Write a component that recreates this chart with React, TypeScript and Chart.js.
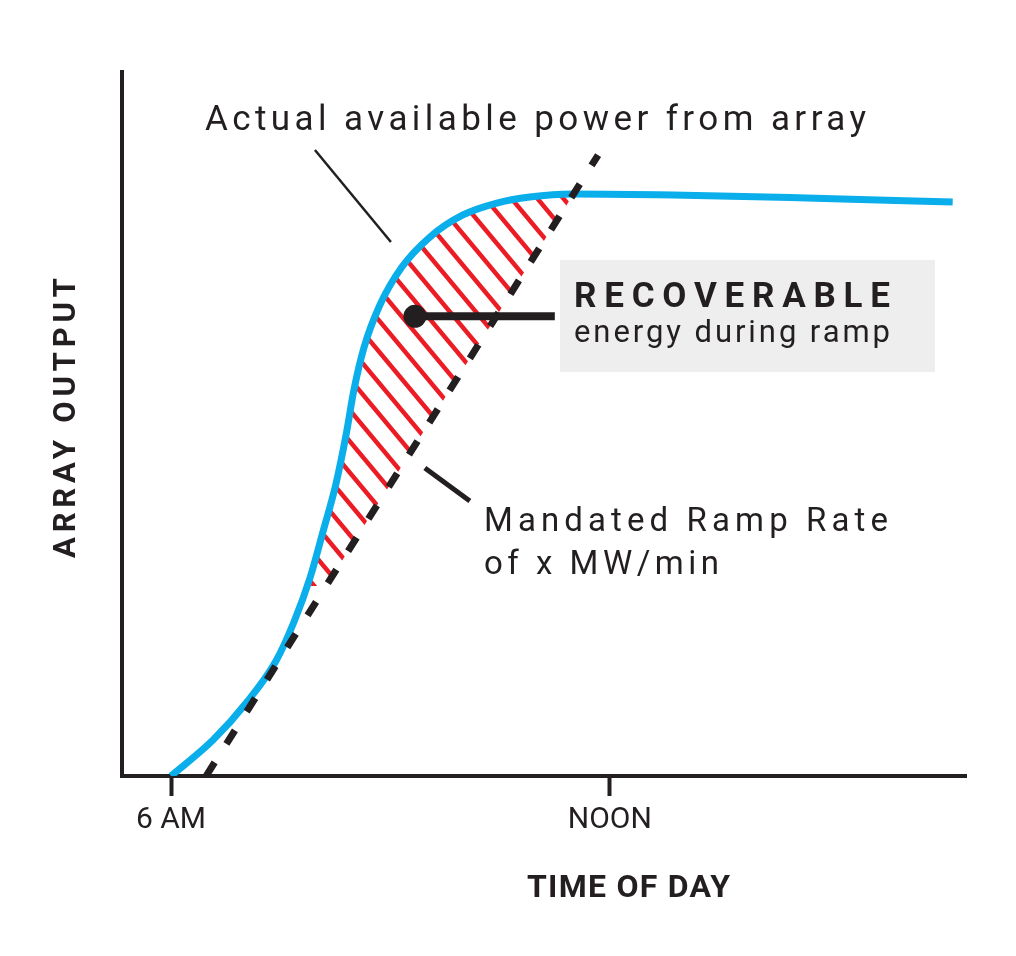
import React, { useEffect, useRef } from "react";
import { Chart, registerables } from "chart.js";

Chart.register(...registerables);

// ---- data (hours of day on x, relative array output 0..100 on y) ----
const tickValues = [6, 12];
const tickLabels = ["6 AM", "NOON"];
const actualX = [6.0, 6.574, 7.039, 7.435, 7.681, 7.9, 8.077, 8.255, 8.391, 8.501, 8.637, 8.856, 9.157, 9.54, 9.991, 10.455, 10.906, 11.494, 12.861, 14.692, 16.688];
const actualY = [0, 5.11, 10.51, 16.34, 21.88, 28.13, 34.66, 41.48, 48.3, 54.83, 60.8, 66.9, 72.3, 76.56, 79.69, 81.39, 82.24, 82.67, 82.53, 82.1, 81.53];
const rampX = [6.48, 11.84];
const rampY = [0, 88.2];
const xRange = [5.33, 16.87];
const yRange = [0, 100];
const hatchFloor = 27;
// annotation anchors (data units)
const dotPoint = [9.335, 65.3];
const pointerEndX = 11.248;
const actualLeader = [[7.968, 88.92], [9.007, 75.85]];
const rampLeader = [[9.471, 43.75], [10.086, 39.06]];

const BLACK = "#231f20";
const BLUE = "#0aaeea";
const RED = "#ec1c24";
const FONT = "Roboto, 'DejaVu Sans', sans-serif";

function spaced(ctx: CanvasRenderingContext2D, text: string, x: number, y: number, width: number, font: string, color: string) {
  ctx.font = font;
  ctx.fillStyle = color;
  ctx.textAlign = "left";
  ctx.textBaseline = "alphabetic";
  (ctx as any).letterSpacing = "0px";
  const w0 = ctx.measureText(text).width;
  const ls = (width - w0) / (text.length - 1);
  (ctx as any).letterSpacing = ls + "px";
  ctx.fillText(text, x, y);
  (ctx as any).letterSpacing = "0px";
}

const hatchPlugin = {
  id: "hatch",
  beforeDatasetsDraw(chart: any) {
    const ctx: CanvasRenderingContext2D = chart.ctx;
    const area = chart.chartArea;
    const rampMeta = chart.getDatasetMeta(0);
    const blueMeta = chart.getDatasetMeta(1);
    const line = blueMeta.dataset;
    const pts = blueMeta.data;
    const r0 = rampMeta.data[0];
    const r1 = rampMeta.data[1];
    ctx.save();
    ctx.beginPath();
    if (line && typeof line.path === "function") {
      line.path(ctx);
    } else {
      ctx.moveTo(pts[0].x, pts[0].y);
      for (let i = 1; i < pts.length; i++) ctx.lineTo(pts[i].x, pts[i].y);
    }
    ctx.lineTo(pts[pts.length - 1].x, area.bottom);
    ctx.lineTo(pts[0].x, area.bottom);
    ctx.closePath();
    ctx.clip();
    const slope = (r1.y - r0.y) / (r1.x - r0.x);
    const xAt = (y: number) => r0.x + (y - r0.y) / slope;
    ctx.beginPath();
    ctx.moveTo(xAt(area.bottom + 50), area.bottom + 50);
    ctx.lineTo(xAt(area.top - 50), area.top - 50);
    ctx.lineTo(area.left - 50, area.top - 50);
    ctx.lineTo(area.left - 50, area.bottom + 50);
    ctx.closePath();
    ctx.clip();
    const floorY = chart.scales.y.getPixelForValue(hatchFloor);
    ctx.beginPath();
    ctx.rect(area.left, area.top - 50, area.width, floorY - area.top + 50);
    ctx.clip();
    ctx.strokeStyle = RED;
    ctx.lineWidth = 4.5;
    ctx.lineCap = "butt";
    const s = 1.2;
    const step = 26;
    const top = area.top - 20;
    const bottom = area.bottom + 20;
    for (let c = -148 - step * 20; c < 1200; c += step) {
      ctx.beginPath();
      ctx.moveTo(c + top / s, top);
      ctx.lineTo(c + bottom / s, bottom);
      ctx.stroke();
    }
    ctx.restore();
  },
};

const annotationPlugin = {
  id: "notes",
  afterDatasetsDraw(chart: any) {
    const ctx: CanvasRenderingContext2D = chart.ctx;
    const xs = chart.scales.x;
    const ys = chart.scales.y;
    const X = (v: number) => xs.getPixelForValue(v);
    const Y = (v: number) => ys.getPixelForValue(v);
    ctx.save();
    // leader lines
    ctx.strokeStyle = BLACK;
    ctx.lineCap = "butt";
    ctx.lineWidth = 2.5;
    ctx.beginPath();
    ctx.moveTo(X(actualLeader[0][0]), Y(actualLeader[0][1]));
    ctx.lineTo(X(actualLeader[1][0]), Y(actualLeader[1][1]));
    ctx.stroke();
    ctx.lineWidth = 5;
    ctx.beginPath();
    ctx.moveTo(X(rampLeader[0][0]), Y(rampLeader[0][1]));
    ctx.lineTo(X(rampLeader[1][0]), Y(rampLeader[1][1]));
    ctx.stroke();
    // gray box
    ctx.fillStyle = "#eeeeee";
    ctx.fillRect(560, 260, 375, 112);
    // pointer
    const dx = X(dotPoint[0]);
    const dy = Y(dotPoint[1]);
    ctx.lineWidth = 8;
    ctx.beginPath();
    ctx.moveTo(dx, dy);
    ctx.lineTo(X(pointerEndX), dy);
    ctx.stroke();
    ctx.fillStyle = BLACK;
    ctx.beginPath();
    ctx.arc(dx, dy, 11.5, 0, Math.PI * 2);
    ctx.fill();
    // texts
    spaced(ctx, "Actual available power from array", 205, 130, 661, `400 35px ${FONT}`, BLACK);
    spaced(ctx, "RECOVERABLE", 574, 307, 316, `700 35px ${FONT}`, BLACK);
    spaced(ctx, "energy during ramp", 574, 342, 316, `400 31px ${FONT}`, BLACK);
    spaced(ctx, "Mandated Ramp Rate", 484, 531, 404, `400 33px ${FONT}`, BLACK);
    spaced(ctx, "of x MW/min", 484, 574, 235, `400 33px ${FONT}`, BLACK);
    spaced(ctx, "TIME OF DAY", 527, 897, 203, `700 32px ${FONT}`, BLACK);
    ctx.save();
    ctx.translate(75, 558);
    ctx.rotate(-Math.PI / 2);
    spaced(ctx, "ARRAY OUTPUT", 0, 0, 280, `700 31px ${FONT}`, BLACK);
    ctx.restore();
    ctx.restore();
  },
};

export default function App() {
  const ref = useRef<HTMLCanvasElement | null>(null);
  useEffect(() => {
    document.body.style.margin = "0";
    const canvas = ref.current!;
    const chart = new Chart(canvas, {
      type: "line",
      data: {
        datasets: [
          {
            label: "Mandated ramp rate",
            data: rampX.map((x, i) => ({ x, y: rampY[i] })),
            borderColor: BLACK,
            borderWidth: 7,
            borderDash: [16, 22],
            borderCapStyle: "butt",
            pointRadius: 0,
            fill: false,
            order: 0,
          },
          {
            label: "Actual available power",
            data: actualX.map((x, i) => ({ x, y: actualY[i] })),
            borderColor: BLUE,
            borderWidth: 7,
            pointRadius: 0,
            cubicInterpolationMode: "monotone",
            fill: false,
            order: 1,
          },
        ],
      },
      options: {
        responsive: false,
        animation: false,
        layout: { padding: { left: 122, right: 50, top: 72, bottom: 0 } },
        plugins: { legend: { display: false }, tooltip: { enabled: false } },
        scales: {
          x: {
            type: "linear",
            min: xRange[0],
            max: xRange[1],
            border: { display: true, color: BLACK, width: 4 },
            grid: { display: true, drawOnChartArea: false, drawTicks: true, tickLength: 20, tickWidth: 4, tickColor: BLACK },
            ticks: {
              font: { family: FONT, size: 30 },
              color: BLACK,
              padding: 6,
              autoSkip: false,
              maxRotation: 0,
              callback: (v: any) => {
                const i = tickValues.indexOf(Number(v));
                return i >= 0 ? tickLabels[i] : "";
              },
            },
            afterBuildTicks: (s: any) => {
              s.ticks = tickValues.map((v) => ({ value: v }));
            },
            afterFit: (s: any) => {
              s.height = 180;
            },
          },
          y: {
            type: "linear",
            min: yRange[0],
            max: yRange[1],
            border: { display: true, color: BLACK, width: 4 },
            grid: { display: false },
            ticks: { display: false },
            afterFit: (s: any) => {
              s.width = 0;
            },
          },
        },
      } as any,
      plugins: [hatchPlugin, annotationPlugin],
    });
    return () => chart.destroy();
  }, []);
  return (
    <div style={{ position: "absolute", left: 0, top: 0, width: 1016, height: 956, background: "#ffffff" }}>
      <canvas ref={ref} width={1016} height={956} style={{ width: 1016, height: 956, display: "block" }} />
    </div>
  );
}
